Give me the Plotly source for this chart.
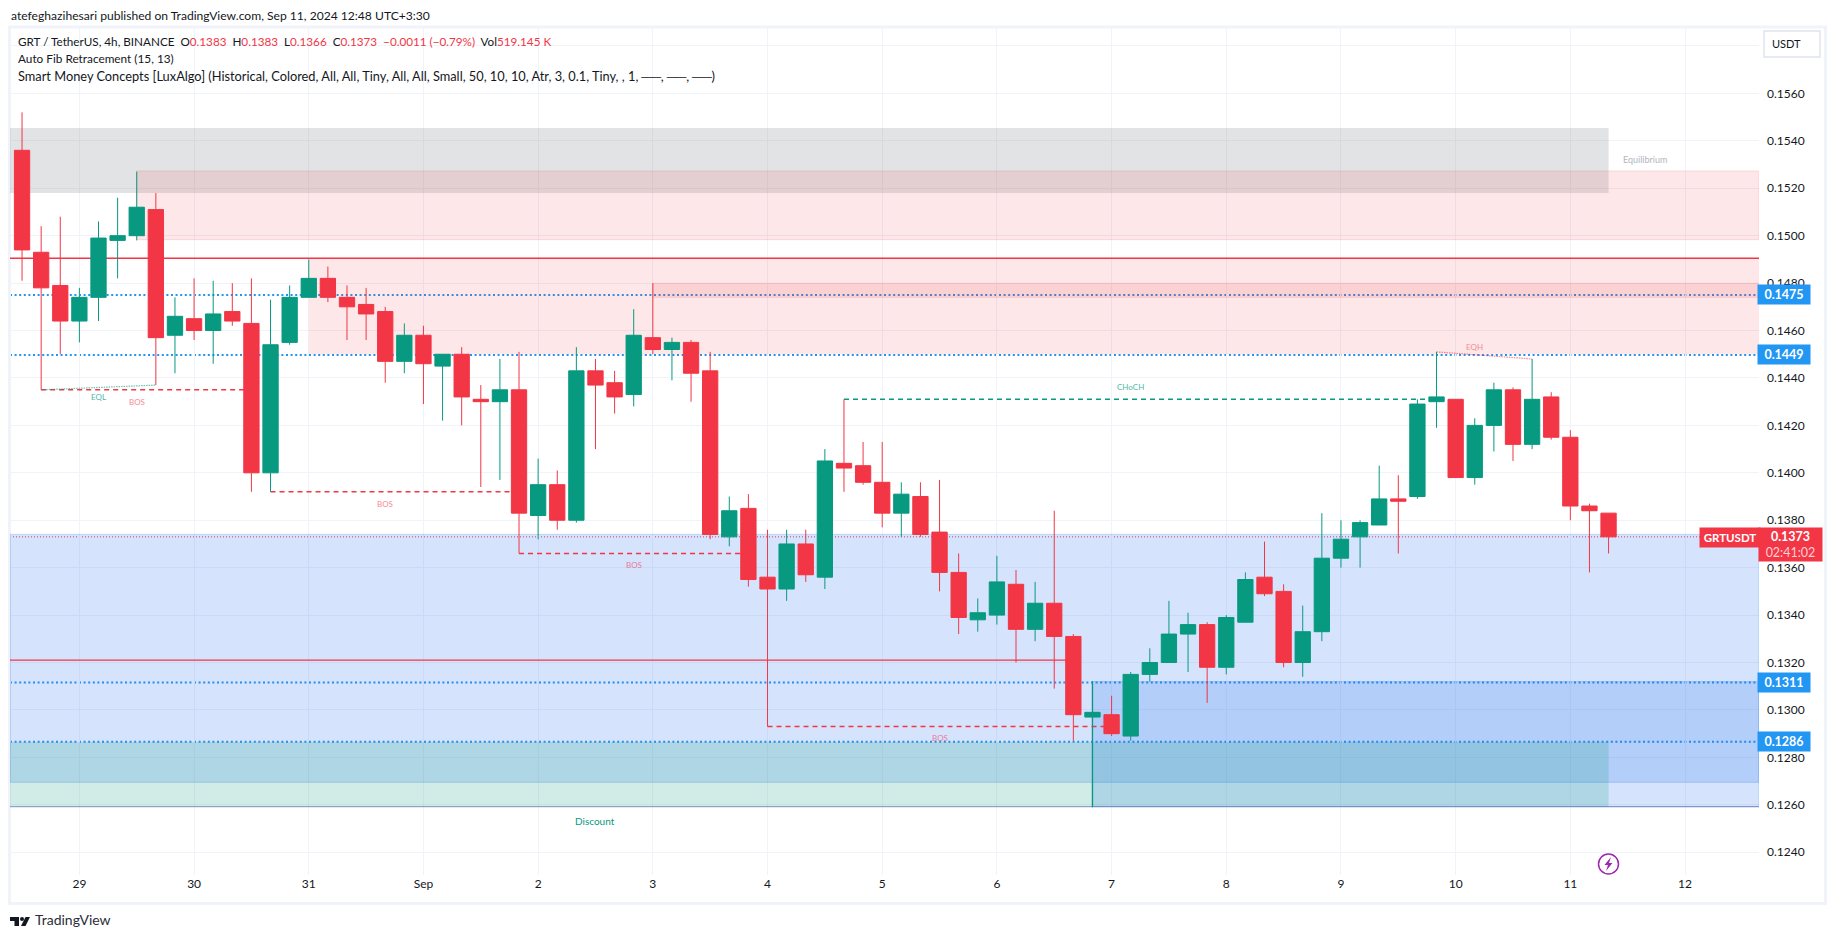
import plotly.graph_objects as go

# ---- data ----
opens = [.1536,.1493,.1479,.1464,.1474,.1498,.1500,.1511,.1458,.1465,.1460,.1468,.1463,.1400,.1455,.1474,.1482,.1474,.1471,.1468,.1447,
         .1458,.1445,.1450,.1431,.1430,.1435,.1382,.1395,.1380,.1443,.1438,.1433,.1457,.1452,.1455,.1443,.1373,.1385,.1356,.1351,.1370,
         .1356,.1404,.1403,.1396,.1383,.1390,.1375,.1358,.1338,.1340,.1353,.1334,.1345,.1331,.1297,.1298,.1289,.1315,.1320,.1332,.1336,
         .1318,.1337,.1356,.1350,.1320,.1333,.1364,.1373,.1378,.1389,.1390,.1430,.1431,.1398,.1420,.1435,.1412,.1432,.1415,.1386,.1383]
highs = [.1552,.1504,.1508,.1478,.1506,.1516,.1527,.1518,.1474,.1482,.1481,.1480,.1482,.1473,.1479,.1490,.1487,.1479,.1478,.1470,.1463,
         .1462,.1450,.1453,.1437,.1448,.1451,.1406,.1401,.1453,.1448,.1443,.1469,.1480,.1457,.1456,.1451,.1390,.1391,.1376,.1376,.1376,
         .1410,.1431,.1413,.1413,.1396,.1396,.1397,.1366,.1347,.1365,.1359,.1354,.1384,.1332,.1312,.1306,.1316,.1326,.1346,.1341,.1337,
         .1340,.1358,.1371,.1353,.1344,.1383,.1380,.1380,.1403,.1399,.1431,.1451,.1431,.1423,.1438,.1436,.1448,.1434,.1418,.1387,.1383]
lows = [.1481,.1435,.1450,.1455,.1464,.1482,.1498,.1437,.1442,.1456,.1446,.1462,.1392,.1392,.1454,.1474,.1472,.1456,.1456,.1438,.1442,
        .1429,.1422,.1420,.1394,.1397,.1366,.1372,.1376,.1379,.1410,.1425,.1428,.1450,.1439,.1430,.1372,.1369,.1352,.1293,.1346,.1354,
        .1351,.1392,.1395,.1377,.1373,.1373,.1350,.1332,.1333,.1336,.1320,.1329,.1309,.1287,.1259,.1289,.1287,.1312,.1320,.1316,.1303,
        .1315,.1337,.1348,.1318,.1314,.1329,.1360,.1360,.1378,.1366,.1389,.1419,.1398,.1395,.1409,.1405,.1410,.1414,.1380,.1358,.1366]
closes = [.1494,.1478,.1464,.1474,.1499,.1500,.1512,.1457,.1466,.1460,.1467,.1464,.1400,.1454,.1474,.1482,.1474,.1470,.1467,.1447,.1458,
          .1446,.1450,.1432,.1430,.1435,.1383,.1395,.1380,.1443,.1437,.1432,.1458,.1452,.1455,.1442,.1374,.1384,.1355,.1351,.1370,.1357,
          .1405,.1402,.1396,.1383,.1391,.1374,.1358,.1339,.1341,.1354,.1334,.1345,.1331,.1298,.1299,.1290,.1315,.1320,.1332,.1336,.1318,
          .1339,.1355,.1349,.1320,.1333,.1364,.1372,.1379,.1389,.1388,.1429,.1432,.1398,.1420,.1435,.1412,.1431,.1415,.1386,.1384,.1373]
candle_index = list(range(len(opens)))

day_ticks = list(range(3, 88, 6))
day_labels = ["29","30","31","Sep","2","3","4","5","6","7","8","9","10","11","12"]
price_ticks = [.1240,.1260,.1280,.1300,.1320,.1340,.1360,.1380,.1400,.1420,.1440,.1460,.1480,.1500,.1520,.1540,.1560,.1580]
price_labels = [f"{p:.4f}" for p in price_ticks[:-1]] + [""]

blue_levels = [.1475, .14497, .13116, .12866]
blue_texts = ["0.1475", "0.1449", "0.1311", "0.1286"]
last_price = .1373

UP, DOWN, BLUE = "#089981", "#f23645", "#2196f3"
FONT = "Lato"
XMIN, XMAX = -0.63, 90.87
YMIN, YMAX = .12304, .15880
L, R, T, B = 10, 1759, 27, 875

def PX(px): return (px - L) / (R - L)
def PY(py): return 1 - (py - T) / (B - T)

# zones: start candle (None = left edge), end candle (None = right edge), top, bottom, fill, border
zones = [
    (None, 83, .15454, .15180, "rgba(120,123,134,0.21)", None),
    (6, None, .15273, .14983, "rgba(242,54,69,0.12)", "rgba(242,54,69,0.12)"),
    (15, None, .14905, .1450, "rgba(242,54,69,0.12)", None),
    (33, None, .14799, .1474, "rgba(242,54,69,0.12)", "rgba(242,54,69,0.12)"),
    (None, None, .13741, .12695, "rgba(33,110,240,0.19)", "rgba(33,110,240,0.2)"),
    (56, None, .1312, .12592, "rgba(33,110,240,0.19)", "rgba(33,110,240,0.2)"),
    (None, 83, .12865, .12592, "rgba(8,153,129,0.19)", None),
]
# structure lines: x0, y0, x1, y1, colour, dash, width
DASHED = "5px,4px"
struct_lines = [
    (1, .1435, 12, .1435, DOWN, DASHED, 1.4),
    (1, .1435, 7, .1437, "rgba(8,153,129,0.6)", "1.5px,1px", 1.2),
    (13, .1392, 26, .1392, DOWN, DASHED, 1.4),
    (26, .1366, 38, .1366, DOWN, DASHED, 1.4),
    (39, .1293, 57, .1293, DOWN, DASHED, 1.4),
    (43, .1431, 74, .1431, UP, DASHED, 1.4),
    (74, .1451, 79, .1448, "rgba(242,54,69,0.6)", "1.5px,1px", 1.2),
    (XMIN, .14905, XMAX, .14905, DOWN, "solid", 1.4),
    (XMIN, .1321, 55, .1321, DOWN, "solid", 1.2),
    (XMIN, .12592, XMAX, .12592, "rgba(90,110,170,0.6)", "solid", 1.3),
    (56, .1312, 56, .1259, UP, "solid", 1.3),
]
# small labels: candle, price, text, colour, size
small_labels = [
    (4, .1432, "EQL", "#50b8a6", 8),
    (6, .1430, "BOS", "#f58a94", 8),
    (19, .1387, "BOS", "#f58a94", 8),
    (32, .1361, "BOS", "#e9799a", 8),
    (48, .1288, "BOS", "#e9799a", 8),
    (58, .1436, "CHoCH", "#50b8a6", 8),
    (76, .1453, "EQH", "#f58a94", 8),
    (84.9, .1532, "Equilibrium", "#b2b5be", 9),
    (30, .1253, "Discount", UP, 10),
]

fig = go.Figure(go.Candlestick(
    x=candle_index, open=opens, high=highs, low=lows, close=closes,
    increasing=dict(line=dict(color=UP, width=1), fillcolor=UP),
    decreasing=dict(line=dict(color=DOWN, width=1), fillcolor=DOWN),
    whiskerwidth=0, showlegend=False, hoverinfo="skip",
))

shapes = []
for x0, x1, top, bot, fill, border in zones:
    shapes.append(dict(type="rect", xref="x", yref="y", layer="between",
                       x0=XMIN if x0 is None else x0, x1=XMAX if x1 is None else x1,
                       y0=bot, y1=top, fillcolor=fill,
                       line=dict(width=1.2, color=border) if border else dict(width=0)))
for x0, y0, x1, y1, col, dash, w in struct_lines:
    shapes.append(dict(type="line", xref="x", yref="y", layer="between", x0=x0, y0=y0, x1=x1, y1=y1,
                       line=dict(color=col, dash=dash, width=w)))
for lv in blue_levels:
    shapes.append(dict(type="line", xref="paper", yref="y", x0=0, x1=1, y0=lv, y1=lv, layer="between",
                       line=dict(color=BLUE, dash="2px,2.6px", width=2)))
shapes.append(dict(type="line", xref="paper", yref="y", x0=0, x1=PX(1701), y0=last_price, y1=last_price, layer="between",
                   line=dict(color=DOWN, dash="1px,2px", width=1)))
# chart frame
shapes.append(dict(type="rect", xref="paper", yref="paper", x0=PX(9.5), x1=PX(1825.5), y0=PY(27), y1=PY(903.5),
                   line=dict(color="#f0f3fa", width=3), layer="below"))
# USDT button
shapes.append(dict(type="rect", xref="paper", yref="paper", x0=PX(1764), x1=PX(1820), y0=PY(31), y1=PY(57),
                   line=dict(color="#e0e3eb", width=1.5), layer="below"))
# lightning badge
shapes.append(dict(type="circle", xref="paper", yref="paper", x0=PX(1598.5), x1=PX(1618.5), y0=PY(854), y1=PY(874),
                   line=dict(color="#9c27b0", width=1.5)))
def poly(pts):
    return "M" + " L".join(f"{PX(a):.5f},{PY(b):.5f}" for a, b in pts) + " Z"
shapes.append(dict(type="path", xref="paper", yref="paper",
                   path=poly([(1611,857),(1604.5,865),(1608,865),(1606,871),(1612.5,863),(1609,863)]),
                   fillcolor="#9c27b0", line=dict(width=0)))
# TradingView logo
for pts in ([(10,917),(19,917),(19,926),(14.5,926),(14.5,921),(10,921)],
            [(25.5,917),(30,917),(25.5,926),(21,926)]):
    shapes.append(dict(type="path", xref="paper", yref="paper", path=poly(pts), fillcolor="#131722", line=dict(width=0)))
shapes.append(dict(type="circle", xref="paper", yref="paper", x0=PX(20), x1=PX(24), y0=PY(917), y1=PY(921),
                   fillcolor="#131722", line=dict(width=0)))

ann = []
def text(px, py, s, size=12, color="#131722", anchor="left", **kw):
    ann.append(dict(xref="paper", yref="paper", x=PX(px), y=PY(py), text=s, showarrow=False, xanchor=anchor,
                    yanchor="middle", font=dict(family=FONT, size=size, color=color), **kw))

for cx, p, s, col, size in small_labels:
    ann.append(dict(xref="x", yref="y", x=cx, y=p, text=s, showarrow=False,
                    font=dict(family=FONT, size=size, color=col)))

GAP = "\u00a0\u00a0"
text(8.5, 15, "atefeghazihesari published on TradingView.com, Sep 11, 2024 12:48 UTC+3:30", 12.1)
red = lambda s: f'<span style="color:{DOWN}">{s}</span>'
text(16, 41, "GRT / TetherUS, 4h, BINANCE" + GAP + "O" + red("0.1383") + GAP + "H" + red("0.1383") + GAP + "L" + red("0.1366") + GAP + "C" + red("0.1373")
     + GAP + red("−0.0011 (−0.79%)") + GAP + "Vol" + red("519.145 K"), 11.7)
text(16, 59, "Auto Fib Retracement (15, 13)", 11.8)
text(16, 76, "Smart Money Concepts [LuxAlgo] (Historical, Colored, All, All, Tiny, All, All, Small, 50, 10, 10, Atr, 3, 0.1, Tiny, , 1, ──, ──, ──)", 12.8)
text(1786, 44, "USDT", 11, anchor="center")
text(33, 920, "TradingView", 14, "#2a2e39")

for lv, s in zip(blue_levels, blue_texts):
    ann.append(dict(xref="paper", yref="y", x=PX(1784), y=lv, text=f"<b>{s}</b>", showarrow=False, xanchor="center",
                    bgcolor=BLUE, width=50, height=17, font=dict(family=FONT, size=12.5, color="white")))
y_last = 529 + 15.5
text(1790, y_last, f"<b>{last_price:.4f}</b><br><span style='color:#fbd0d4'>02:41:02</span>", 12.5, "white", anchor="center",
     bgcolor=DOWN, width=61, height=31)
ann.append(dict(xref="paper", yref="paper", x=PX(1730), y=PY(537.5), text="<b>GRTUSDT</b>", showarrow=False, xanchor="center",
                bgcolor=DOWN, width=58, height=17, font=dict(family=FONT, size=11.5, color="white")))

fig.update_layout(
    width=1835, height=939, paper_bgcolor="white", plot_bgcolor="white",
    margin=dict(l=L, r=1835 - R, t=T, b=939 - B, pad=0),
    xaxis=dict(range=[XMIN, XMAX], tickmode="array", tickvals=day_ticks, ticktext=day_labels, showgrid=True,
               gridcolor="#f0f3fa", gridwidth=1, zeroline=False, rangeslider=dict(visible=False), ticks="",
               tickfont=dict(family=FONT, size=12, color="#131722"), showline=False),
    yaxis=dict(range=[YMIN, YMAX], side="right", tickmode="array", tickvals=price_ticks, ticktext=price_labels,
               showgrid=True, gridcolor="#f0f3fa", gridwidth=1, zeroline=False, ticks="", ticklabelstandoff=7,
               tickfont=dict(family=FONT, size=12, color="#131722"), showline=False),
    boxmode="overlay", boxgap=0.2, boxgroupgap=0,
    shapes=shapes, annotations=ann, showlegend=False, font=dict(family=FONT),
)
fig.write_html("out.html", post_script="document.body.style.margin='0';", config={"displayModeBar": False})
